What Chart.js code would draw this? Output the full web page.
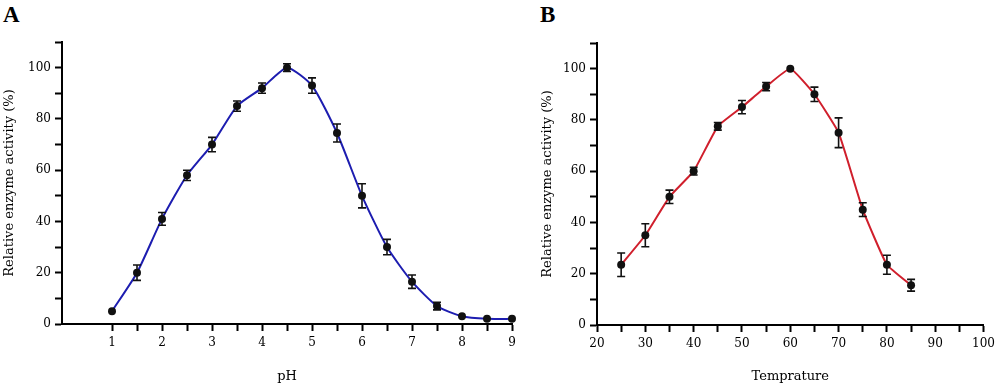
<!DOCTYPE html>
<html><head><meta charset="utf-8">
<script src="https://cdn.jsdelivr.net/npm/chart.js@4.4.0/dist/chart.umd.min.js"></script>
<style>
html,body{margin:0;padding:0;background:#fff;width:1000px;height:390px;overflow:hidden}
#wa{position:absolute;left:0;top:0;width:530px;height:390px}
#wb{position:absolute;left:540px;top:0;width:460px;height:390px}
.lab{position:absolute;font-family:"Liberation Serif",serif;font-weight:bold;font-size:23px;line-height:23px;color:#000}
</style></head><body>
<div class="lab" style="left:3px;top:3px">A</div>
<div class="lab" style="left:540px;top:3px">B</div>
<div id="wa"><canvas id="ca"></canvas></div>
<div id="wb"><canvas id="cb"></canvas></div>
<script>
// ---- data ----
const phValues   = [1, 1.5, 2, 2.5, 3, 3.5, 4, 4.5, 5, 5.5, 6, 6.5, 7, 7.5, 8, 8.5, 9];
const phActivity = [5, 20, 41, 58, 70, 85, 92, 100, 93, 74.5, 50, 30, 16.5, 7, 3, 2, 2];
const phError    = [0, 3, 2.5, 2, 2.8, 2, 2, 1.5, 3, 3.5, 4.7, 3, 2.6, 1.5, 0, 0, 0];

const tempValues   = [25, 30, 35, 40, 45, 50, 55, 60, 65, 70, 75, 80, 85];
const tempActivity = [23.5, 35, 50, 60, 77.5, 85, 93, 100, 90, 75, 45, 23.5, 15.5];
const tempError    = [4.6, 4.5, 2.6, 1.5, 1.5, 2.6, 1.6, 0, 2.8, 5.8, 2.7, 3.7, 2.3];

const phTicks   = [1, 1.5, 2, 2.5, 3, 3.5, 4, 4.5, 5, 5.5, 6, 6.5, 7, 7.5, 8, 8.5, 9];
const phLabels  = [1, 2, 3, 4, 5, 6, 7, 8, 9];
const tempTicks = [20, 25, 30, 35, 40, 45, 50, 55, 60, 65, 70, 75, 80, 85, 90, 95, 100];
const tempLabels= [20, 30, 40, 50, 60, 70, 80, 90, 100];
const yTicks    = [0, 10, 20, 30, 40, 50, 60, 70, 80, 90, 100, 110];
const yLabels   = [0, 20, 40, 60, 80, 100];

const yTitle = 'Relative enzyme activity (%)';

// ---- error bar plugin ----
const errorBars = {
  id: 'errorBars',
  afterDatasetsDraw(chart) {
    const ctx = chart.ctx;
    const xs = chart.scales.x, ys = chart.scales.y;
    chart.data.datasets.forEach(ds => {
      if (!ds.errors) return;
      ctx.save();
      ctx.strokeStyle = '#111';
      ctx.lineWidth = 1.6;
      ds.data.forEach((p, i) => {
        const e = ds.errors[i];
        if (!e) return;
        const px = xs.getPixelForValue(p.x);
        const y1 = ys.getPixelForValue(p.y + e);
        const y2 = ys.getPixelForValue(p.y - e);
        ctx.beginPath();
        ctx.moveTo(px, y1); ctx.lineTo(px, y2);
        ctx.moveTo(px - 4, y1); ctx.lineTo(px + 4, y1);
        ctx.moveTo(px - 4, y2); ctx.lineTo(px + 4, y2);
        ctx.stroke();
      });
      ctx.restore();
    });
  }
};

const tickFont = {family: '"DejaVu Serif", serif', size: 12};
const titleFont = {family: '"DejaVu Serif", serif', size: 13};

function makeChart(id, cfg) {
  return new Chart(document.getElementById(id), {
    type: 'line',
    data: {datasets: [{
      data: cfg.xv.map((x, i) => ({x: x, y: cfg.yv[i]})),
      errors: cfg.err,
      borderColor: cfg.color,
      borderWidth: 2,
      pointRadius: 4,
      pointHoverRadius: 4,
      pointBackgroundColor: '#111',
      pointBorderWidth: 0,
      tension: cfg.tension,
      clip: false
    }]},
    options: {
      responsive: true,
      maintainAspectRatio: false,
      animation: false,
      layout: {padding: cfg.pad},
      plugins: {legend: {display: false}, tooltip: {enabled: false}},
      scales: {
        x: {
          type: 'linear', min: cfg.xmin, max: cfg.xmax,
          afterBuildTicks: s => { s.ticks = cfg.xticks.map(v => ({value: v})); },
          afterFit: s => { s.height = cfg.xh; },
          ticks: {
            autoSkip: false, maxRotation: 0, color: '#000', font: tickFont, padding: 5,
            callback: v => cfg.xlabels.includes(v) ? String(v) : ''
          },
          grid: {drawOnChartArea: false, drawTicks: true, tickLength: 7, tickWidth: 2, tickColor: '#000'},
          border: {color: '#000', width: 2},
          title: {display: true, text: cfg.xtitle, color: '#000', font: titleFont, padding: {top: 0, bottom: 6}}
        },
        y: {
          type: 'linear', min: 0, max: 110,
          afterBuildTicks: s => { s.ticks = yTicks.map(v => ({value: v})); },
          afterFit: s => { s.width = cfg.yw; },
          ticks: {
            autoSkip: false, color: '#000', font: tickFont, padding: 4,
            callback: v => yLabels.includes(v) ? String(v) : ''
          },
          grid: {drawOnChartArea: false, drawTicks: true, tickLength: 7, tickWidth: 2, tickColor: '#000'},
          border: {color: '#000', width: 2},
          title: {display: true, text: yTitle, color: '#000', font: titleFont, padding: {top: 0, bottom: 0}}
        }
      }
    },
    plugins: [errorBars]
  });
}

makeChart('ca', {
  xv: phValues, yv: phActivity, err: phError, color: '#1d1db0', tension: 0.2,
  xmin: 0, xmax: 9, xticks: phTicks, xlabels: phLabels, xtitle: 'pH',
  pad: {left: 2, top: 42, right: 18, bottom: 0}, xh: 66, yw: 60
});
makeChart('cb', {
  xv: tempValues, yv: tempActivity, err: tempError, color: '#d01f2c', tension: 0.12,
  xmin: 20, xmax: 100, xticks: tempTicks, xlabels: tempLabels, xtitle: 'Temprature',
  pad: {left: 0, top: 43, right: 12, bottom: 0}, xh: 65, yw: 57
});
</script>
</body></html>
